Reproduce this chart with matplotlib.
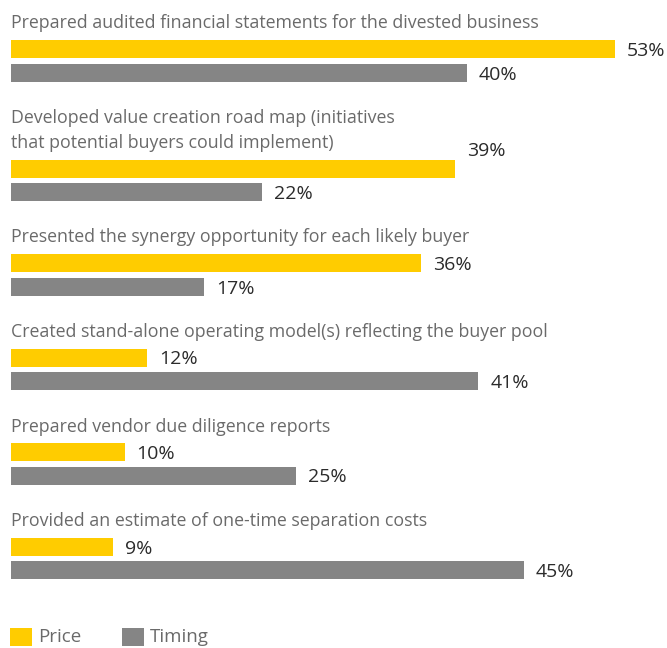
"""Paired horizontal bars: Price vs Timing actions in a divestment."""
import matplotlib.pyplot as plt
from matplotlib.patches import Rectangle

categories = [
    "Prepared audited financial statements for the divested business",
    "Developed value creation road map (initiatives\nthat potential buyers could implement)",
    "Presented the synergy opportunity for each likely buyer",
    "Created stand-alone operating model(s) reflecting the buyer pool",
    "Prepared vendor due diligence reports",
    "Provided an estimate of one-time separation costs",
]
price = [53, 39, 36, 12, 10, 9]
timing = [40, 22, 17, 41, 25, 45]
series_names = ["Price", "Timing"]

YELLOW = "#FFCC00"
GREY = "#858585"
TITLE_C = "#6a6a6a"
VALUE_C = "#2b2b2b"
FONT = "Open Sans"

W, H = 667, 648
PX_PER_PCT = 11.41
X0 = 10.5  # left edge of bars in pixels

fig = plt.figure(figsize=(W / 100, H / 100), dpi=100)
ax = fig.add_axes([0, 0, 1, 1])
ax.set_xlim(-X0 / PX_PER_PCT, (W - X0) / PX_PER_PCT)
ax.set_ylim(H, 0)
ax.axis("off")

pad = 12 / PX_PER_PCT
# one label in the source sits above its bar
label_shift = {(1, 0): -20}

y = 22
for i, (cat, p, t) in enumerate(zip(categories, price, timing)):
    lines = cat.split("\n")
    for j, line in enumerate(lines):
        ax.text(0, y + 1.5 + j * 25, line, ha="left", va="center", fontsize=12.8,
                color=TITLE_C, family=FONT)
    yc = y + (len(lines) - 1) * 25 + 27
    for k, (v, c) in enumerate([(p, YELLOW), (t, GREY)]):
        yy = yc + k * 23.5
        ax.barh(yy, v, height=18, left=0, color=c, linewidth=0)
        ax.text(v + pad, yy + 2 + label_shift.get((i, k), 0), f"{v}%",
                ha="left", va="center", fontsize=14, color=VALUE_C, family=FONT)
    y = yc + 23.5 + 44

# legend along the bottom edge (source crops it; keep it just inside)
for x_px, name, c in [(10, series_names[0], YELLOW), (122, series_names[1], GREY)]:
    ax.add_patch(Rectangle((x_px / W, 2 / H), 22 / W, 18 / H, transform=ax.transAxes,
                           color=c, lw=0, clip_on=False))
    ax.text((x_px + 28) / W, 2 / H, name, transform=ax.transAxes, ha="left",
            va="bottom", fontsize=13.5, color=TITLE_C, family=FONT)

fig.savefig("out.png", dpi=100)
